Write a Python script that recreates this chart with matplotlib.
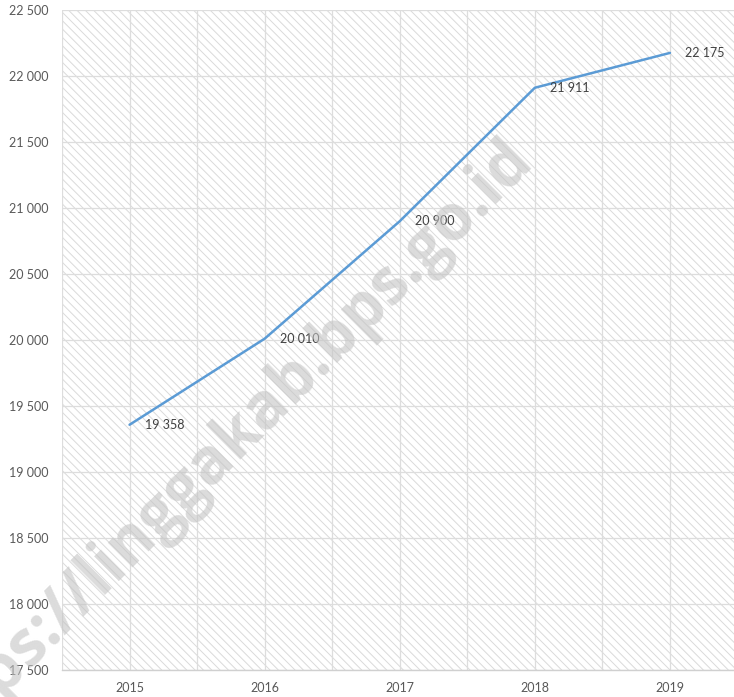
import matplotlib.pyplot as plt
from matplotlib.patches import Rectangle
from matplotlib.ticker import FuncFormatter, MultipleLocator

years = ["2015", "2016", "2017", "2018", "2019"]
values = [19358, 20010, 20900, 21911, 22175]
y_ticks = list(range(17500, 22501, 500))


def spaced(v, pos=None):
    return f"{int(v):,}".replace(",", " ")


plt.rcParams['font.family'] = ['Lato', 'DejaVu Sans']
plt.rcParams['hatch.color'] = '#dadada'
plt.rcParams['hatch.linewidth'] = 0.7

fig = plt.figure(figsize=(7.34, 6.97), dpi=100)
ax = fig.add_axes([62 / 734, 27 / 697, 675.5 / 734, 660 / 697])

# hatched background
ax.add_patch(Rectangle((0, 0), 1, 1, transform=ax.transAxes, facecolor='white',
                       edgecolor='#dadada', hatch='\\\\\\\\', lw=0, zorder=0))

x = list(range(len(years)))
ax.plot(x, values, color='#5b9bd5', lw=1.8, zorder=3, solid_capstyle='round')

for xi, v in zip(x, values):
    ax.annotate(spaced(v), (xi, v), xytext=(11, 0), textcoords='offset points',
                ha='left', va='center', fontsize=9, color='#404040', zorder=4)

ax.set_xlim(-0.5, 4.5)
ax.set_ylim(17500, 22500)
ax.set_xticks(x)
ax.set_xticklabels(years)
ax.set_yticks(y_ticks)
ax.yaxis.set_major_formatter(FuncFormatter(spaced))
ax.xaxis.set_minor_locator(MultipleLocator(0.5))

ax.grid(True, which='major', axis='y', color='#dddddd', lw=0.9, zorder=1)
ax.grid(True, which='minor', axis='x', color='#dddddd', lw=0.9, zorder=1)
ax.set_axisbelow(True)
for xi in x:
    ax.axvline(xi, color='#dddddd', lw=0.9, zorder=1)

for s in ['top', 'right', 'left']:
    ax.spines[s].set_visible(False)
ax.spines['bottom'].set_color('#d0d0d0')
ax.spines['bottom'].set_linewidth(1.0)

ax.tick_params(axis='both', which='both', length=0, labelsize=9, colors='#595959')
ax.tick_params(axis='y', pad=10)
ax.tick_params(axis='x', pad=9)

# watermark
fig.text(0.300, 0.352, "https://linggakab.bps.go.id", fontsize=46, fontweight='bold',
         color='#c4c4c4', alpha=0.6, rotation=45, ha='center', va='center',
         family=['Open Sans', 'DejaVu Sans'], zorder=10)

fig.savefig("out.png", dpi=100)
